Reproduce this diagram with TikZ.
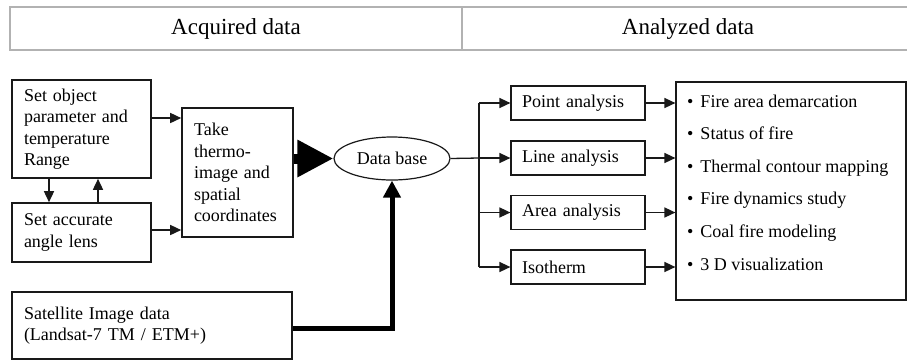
\documentclass[tikz,border=0pt]{standalone}
\usepackage{fontspec}
\setmainfont{Liberation Serif}
\usetikzlibrary{arrows.meta,shapes.geometric}
\begin{document}
\begin{tikzpicture}[x=1pt,y=-1pt,
  every node/.style={font=\fontsize{18}{21.5}\selectfont},
  lbox/.style={draw=black!90, line width=1.6pt, align=left, inner xsep=12pt, inner ysep=0pt},
  abox/.style={draw=black!90, line width=1.2pt, align=left, inner xsep=11pt, inner ysep=0pt, text width=112pt, minimum height=34pt},
  hcell/.style={draw=black!30, line width=1.4pt, inner sep=0pt, minimum width=452pt, minimum height=43pt, font=\fontsize{23}{26}\selectfont},
  arr/.style={draw=black!90, line width=1.5pt, -{Triangle[length=11pt,width=10pt]}},
  plain/.style={draw=black!90, line width=1.3pt},
  item/.style={anchor=base west, inner sep=0pt},
]
\useasboundingbox (0,0) rectangle (907,360);
\fill[white] (0,0) rectangle (907,360);

% header
\node[hcell] (hA) at (236,28.5) {Acquired data};
\node[hcell] (hB) at (688,28.5) {Analyzed data};

% left side
\node[lbox, text width=115pt, minimum height=98pt] (b1) at (81.5,129) {Set object\\parameter and\\temperature\\Range};
\node[lbox, text width=115pt, minimum height=59pt] (b2) at (81.5,232.5) {Set accurate\\angle lens};
\node[lbox, text width=87pt, minimum height=129pt] (b3) at (237.5,172.5) {Take\\thermo-\\image and\\spatial\\coordinates};
\node[lbox, text width=256pt, minimum height=67pt] (sat) at (152,325.5) {Satellite Image data\\(Landsat-7 TM / ETM+)};

\node[ellipse, draw=black!90, line width=1.2pt, minimum width=116pt, minimum height=43pt, inner sep=0pt] (db) at (392,158.5) {Data base};

% right side
\node[abox] (pa) at (578,103) {Point analysis};
\node[abox] (la) at (578,158) {Line analysis};
\node[abox] (aa) at (578,212.5) {Area analysis};
\node[abox] (iso) at (578,267) {Isotherm};

\node[draw=black!90, line width=1.2pt, minimum width=230pt, minimum height=218pt, inner sep=0pt] (res) at (791,191) {};
\foreach \t [count=\i] in {Fire area demarcation, Status of fire, Thermal contour mapping, Fire dynamics study, Coal fire modeling, 3 D visualization}
  \node[item] (it\i) at (687,{107+32.6*(\i-1)}) {•\hspace{7pt}\t};

% connectors
\draw[arr] ([yshift=11pt]b1.east) -- ([yshift=11pt]b1.east -| b3.west);
\draw[arr] ([yshift=2.5pt]b2.east) -- ([yshift=2.5pt]b2.east -| b3.west);
\draw[arr] ([xshift=-32.5pt]b1.south) -- ([xshift=-32.5pt]b1.south |- b2.north);
\draw[arr] ([xshift=16.5pt]b2.north) -- ([xshift=16.5pt]b2.north |- b1.south);

\draw[black, line width=10pt, -{Triangle[length=36pt,width=35pt]}] (b3.east |- db.west) -- (db.west);
\draw[black, line width=5pt, -{Triangle[length=17pt,width=17pt]}] ([yshift=-2.5pt]sat.east) -| (db.south);

\coordinate (bus) at (479,158);
\draw[plain] (db.east) -- (bus);
\draw[plain] (bus |- pa.west) -- (bus |- iso.west);
\foreach \n in {pa,la,aa,iso} {
  \draw[arr] (bus |- \n.west) -- (\n.west);
  \draw[arr] (\n.east) -- (\n.east -| res.west);
}
\end{tikzpicture}
\end{document}
